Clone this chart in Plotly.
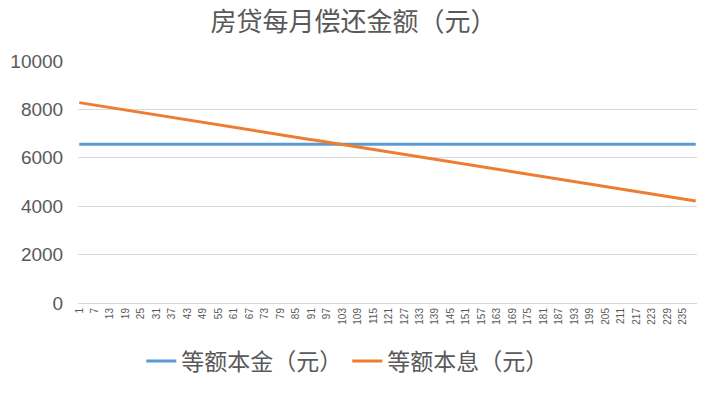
import plotly.graph_objects as go

months = list(range(1, 241))

# 等额本金 (constant, as shown in the chart's blue series)
principal_equal = [6560] * 240

# 等额本息 (decreasing, as shown in the chart's orange series)
interest_equal = [
    8280, 8263, 8246, 8229, 8212, 8195, 8178, 8161, 8144, 8127,
    8110, 8093, 8076, 8059, 8042, 8025, 8008, 7991, 7974, 7957,
    7940, 7923, 7906, 7889, 7872, 7855, 7838, 7821, 7804, 7787,
    7770, 7753, 7736, 7719, 7702, 7685, 7668, 7651, 7634, 7617,
    7600, 7583, 7566, 7549, 7532, 7515, 7498, 7481, 7464, 7447,
    7430, 7413, 7396, 7379, 7362, 7345, 7328, 7311, 7294, 7277,
    7260, 7243, 7226, 7209, 7192, 7175, 7158, 7141, 7124, 7107,
    7090, 7073, 7056, 7039, 7022, 7005, 6988, 6971, 6954, 6937,
    6920, 6903, 6886, 6869, 6852, 6835, 6818, 6801, 6784, 6767,
    6750, 6733, 6716, 6699, 6682, 6665, 6648, 6631, 6614, 6597,
    6580, 6563, 6546, 6529, 6512, 6495, 6478, 6461, 6444, 6427,
    6410, 6393, 6376, 6359, 6342, 6325, 6308, 6291, 6274, 6257,
    6240, 6223, 6206, 6189, 6172, 6155, 6138, 6121, 6104, 6087,
    6070, 6053, 6036, 6019, 6002, 5985, 5968, 5951, 5934, 5917,
    5900, 5883, 5866, 5849, 5832, 5815, 5798, 5781, 5764, 5747,
    5730, 5713, 5696, 5679, 5662, 5645, 5628, 5611, 5594, 5577,
    5560, 5543, 5526, 5509, 5492, 5475, 5458, 5441, 5424, 5407,
    5390, 5373, 5356, 5339, 5322, 5305, 5288, 5271, 5254, 5237,
    5220, 5203, 5186, 5169, 5152, 5135, 5118, 5101, 5084, 5067,
    5050, 5033, 5016, 4999, 4982, 4965, 4948, 4931, 4914, 4897,
    4880, 4863, 4846, 4829, 4812, 4795, 4778, 4761, 4744, 4727,
    4710, 4693, 4676, 4659, 4642, 4625, 4608, 4591, 4574, 4557,
    4540, 4523, 4506, 4489, 4472, 4455, 4438, 4421, 4404, 4387,
    4370, 4353, 4336, 4319, 4302, 4285, 4268, 4251, 4234, 4217,
]

x_tick_vals = [1, 7, 13, 19, 25, 31, 37, 43, 49, 55, 61, 67, 73, 79, 85, 91, 97,
               103, 109, 115, 121, 127, 133, 139, 145, 151, 157, 163, 169, 175,
               181, 187, 193, 199, 205, 211, 217, 223, 229, 235]
y_tick_vals = [0, 2000, 4000, 6000, 8000, 10000]
y_tick_text = ["0", "2000", "4000", "6000", "8000", "10000"]

title_text = "房贷每月偿还金额（元）"
name_a = "等额本金（元）"
name_b = "等额本息（元）"

CJK = "Noto Sans CJK SC"
GRAY = "#595959"

fig = go.Figure()
fig.add_trace(go.Scatter(x=months, y=principal_equal, mode="lines", name=name_a,
                         line=dict(color="#5B9BD5", width=3)))
fig.add_trace(go.Scatter(x=months, y=interest_equal, mode="lines", name=name_b,
                         line=dict(color="#ED7D31", width=3)))

fig.update_layout(
    width=707, height=393,
    paper_bgcolor="white", plot_bgcolor="white",
    margin=dict(l=76, r=10, t=61, b=87),
    title=dict(text=title_text, x=0.5, xanchor="center", y=0.945, yanchor="middle",
               font=dict(family=CJK, size=26, color=GRAY)),
    legend=dict(orientation="h", x=0.435, xanchor="center", y=-0.24, yanchor="middle",
                font=dict(family=CJK, size=23, color=GRAY), itemwidth=30),
    showlegend=True,
)
fig.update_xaxes(
    range=[0.5, 240.5], tickmode="array", tickvals=x_tick_vals,
    ticktext=[str(v) for v in x_tick_vals], tickangle=-90,
    tickfont=dict(family="Liberation Sans", size=10, color=GRAY),
    showgrid=False, zeroline=False, showline=True, linecolor="#D9D9D9", linewidth=1,
    ticks="", ticklen=0,
)
fig.update_yaxes(
    range=[0, 10000], tickmode="array", tickvals=y_tick_vals, ticktext=y_tick_text,
    tickfont=dict(family="Liberation Sans", size=19, color=GRAY),
    showgrid=True, gridcolor="#D9D9D9", gridwidth=1, zeroline=False,
    ticks="outside", ticklen=10, tickcolor="white",
)

fig.write_html("out.html", config={"displayModeBar": False},
               post_script="document.body.style.margin='0';")
